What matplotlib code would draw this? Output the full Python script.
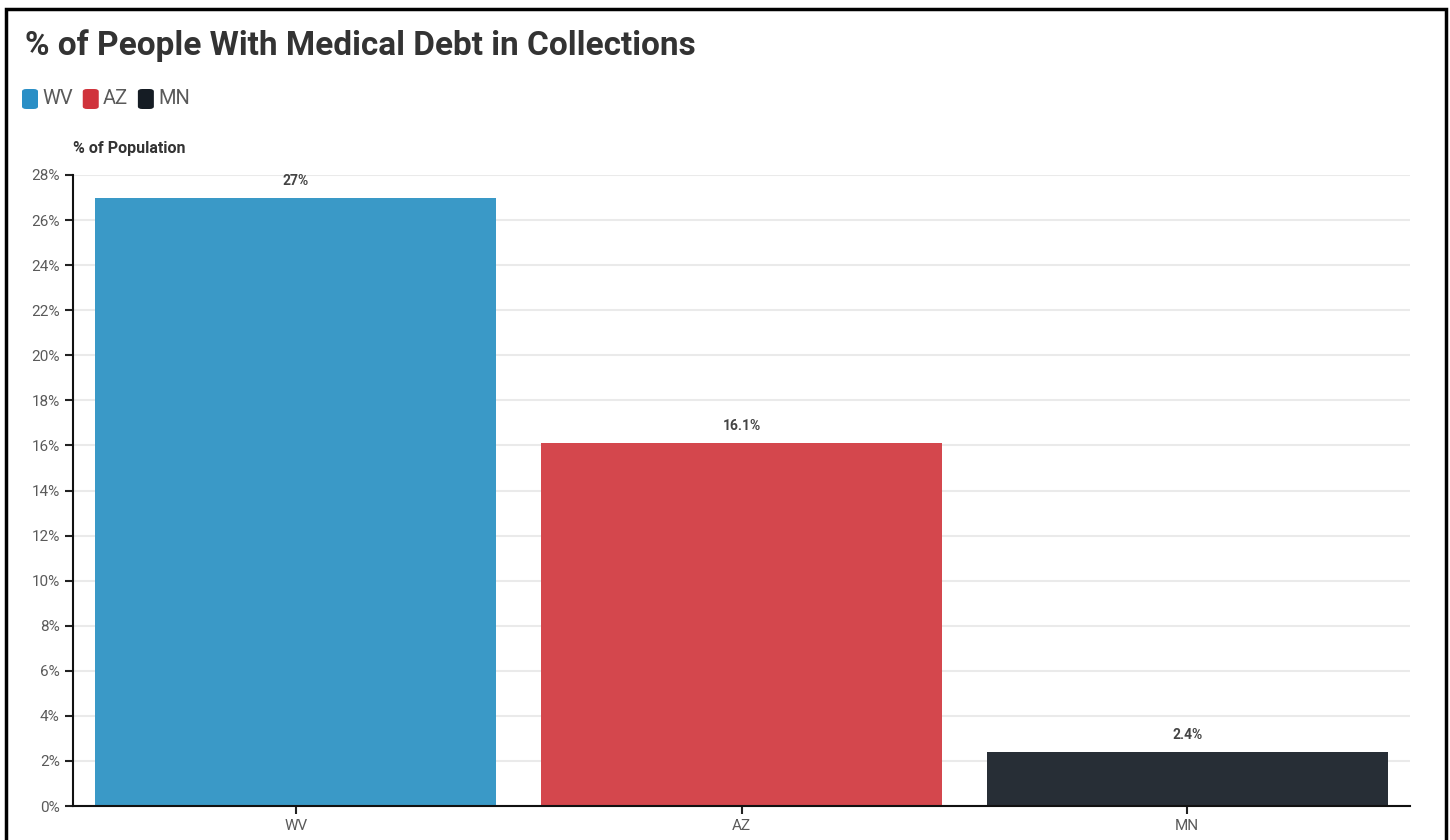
import matplotlib
matplotlib.use("Agg")
import matplotlib.pyplot as plt
from matplotlib.patches import FancyBboxPatch, Rectangle
from matplotlib.ticker import FuncFormatter, MultipleLocator

plt.rcParams["font.family"] = ["Roboto", "DejaVu Sans"]

states = ["WV", "AZ", "MN"]
pct_in_collections = [27.0, 16.1, 2.4]
value_labels = ["27%", "16.1%", "2.4%"]
bar_colors = ["#3a99c7", "#d4474d", "#272e36"]
legend_colors = ["#2a8fc6", "#d0333c", "#151c24"]

W, H = 1450, 840
fig = plt.figure(figsize=(W / 100, H / 100), dpi=100)
fig.patch.set_facecolor("white")

# outer frame (bottom edge cut off like the screenshot)
fig.add_artist(Rectangle((6 / W, -0.05), 1440 / W, 1.05 - 9 / H,
                         transform=fig.transFigure, fill=False,
                         edgecolor="black", linewidth=2.5))

ax = fig.add_axes([73 / W, 1 - 806 / H, (1410 - 73) / W, (806 - 175) / H])

x = range(len(states))
ax.bar(x, pct_in_collections, width=0.9, color=bar_colors, zorder=2)
for i, (v, lab) in enumerate(zip(pct_in_collections, value_labels)):
    ax.annotate(lab, (i, v), xytext=(0, 7), textcoords="offset points",
                ha="center", va="bottom", fontsize=10, fontweight="bold",
                color="#444444")

ax.set_xlim(-0.5, 2.5)
ax.set_ylim(0, 28)
ax.set_xticks(list(x))
ax.set_xticklabels(states)
ax.yaxis.set_major_locator(MultipleLocator(2))
ax.yaxis.set_major_formatter(FuncFormatter(lambda v, _: f"{v:.0f}%"))
ax.tick_params(axis="both", colors="#222222", labelcolor="#5a5a5a",
               labelsize=11, length=6, width=1.5, direction="out")
ax.grid(axis="y", color="#eaeaea", linewidth=1.5, zorder=0)
ax.set_axisbelow(True)
for side in ["top", "right"]:
    ax.spines[side].set_visible(False)
for side in ["left", "bottom"]:
    ax.spines[side].set_linewidth(1.5)
    ax.spines[side].set_color("#111111")

fig.text(25 / W, 1 - 46 / H, "% of People With Medical Debt in Collections",
         fontsize=24, fontweight="bold", color="#333333",
         ha="left", va="center")
fig.text(73 / W, 1 - 149 / H, "% of Population", fontsize=11.5,
         fontweight="bold", color="#333333", ha="left", va="center")

# legend: rounded swatches + labels
renderer = fig.canvas.get_renderer()
lx = 22
for name, c in zip(states, legend_colors):
    fig.add_artist(FancyBboxPatch((lx / W, 1 - 109 / H), 16 / W, 20 / H,
                                  boxstyle="round,pad=0,rounding_size=0.003",
                                  transform=fig.transFigure,
                                  facecolor=c, edgecolor="none"))
    t = fig.text((lx + 20) / W, 1 - 99 / H, name, fontsize=14.5,
                 color="#5a5a5a", ha="left", va="center")
    tw = t.get_window_extent(renderer).width
    lx += 20 + tw + 10

fig.savefig("out.png", dpi=100)
